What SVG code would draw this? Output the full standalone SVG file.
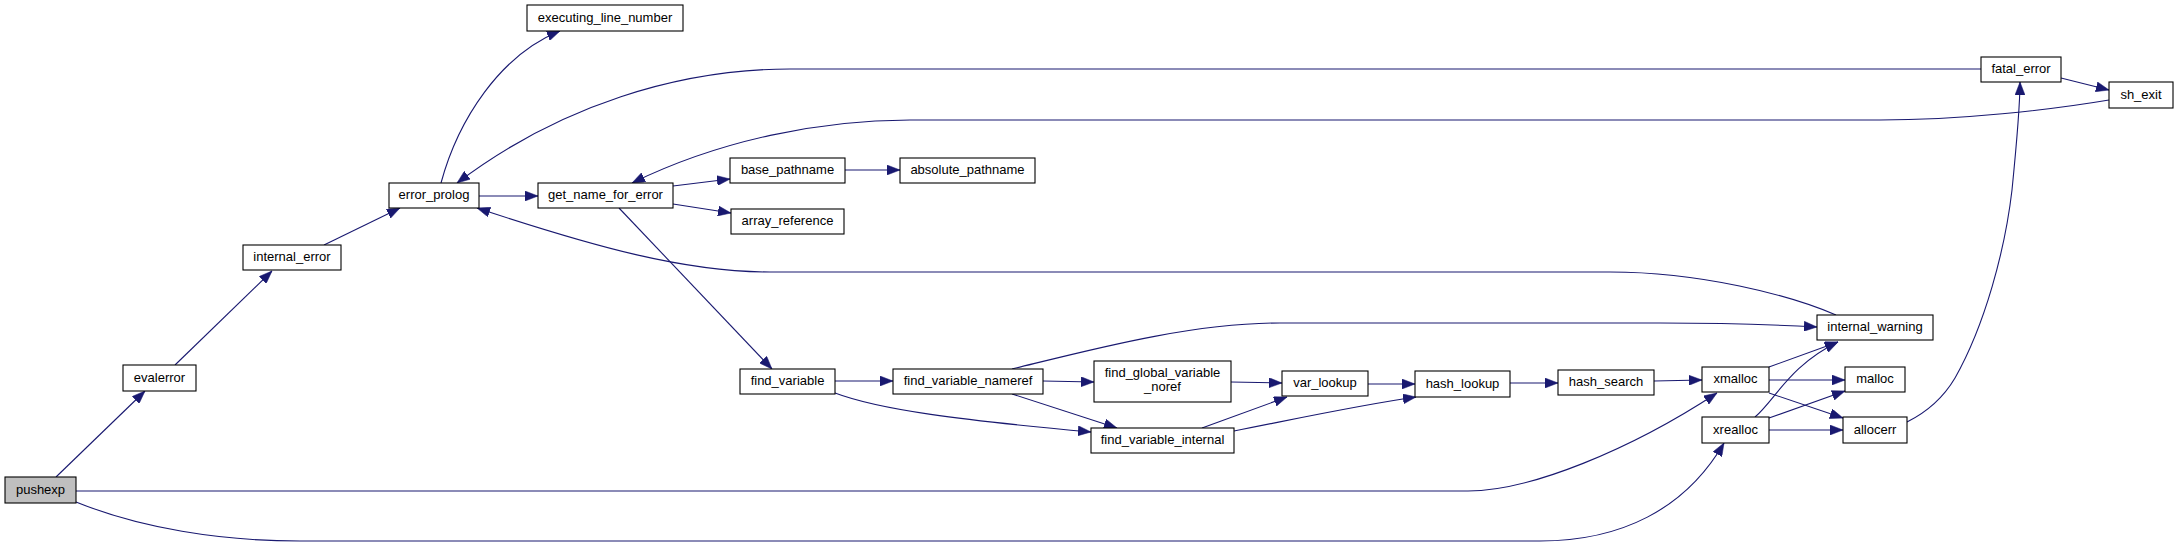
<svg xmlns="http://www.w3.org/2000/svg" width="2179" height="547" viewBox="0 0 2179 547">
<style>
.n rect{fill:#fff;stroke:#000;stroke-width:1.1}
.n text{font-family:"Liberation Sans",Arial,sans-serif;font-size:13px;fill:#000;text-anchor:middle}
#pushexp rect{fill:#bfbfbf}
.e path{fill:none;stroke:#191970;stroke-width:1.1;marker-end:url(#ah)}
</style>
<defs>
<marker id="ah" viewBox="0 0 13 10" refX="13" refY="5" markerWidth="13" markerHeight="10" markerUnits="userSpaceOnUse" orient="auto">
<path d="M0,0 L13,5 L0,10 z" fill="#191970" stroke="#191970" stroke-width="0.5"/>
</marker>
</defs>
<rect width="2179" height="547" fill="#fff"/>
<g id="edges" class="e">
<path d="M56,477 L145,391"/>
<path d="M175,365 L272,271"/>
<path d="M324,245 L400,208"/>
<path d="M441,183 C458,120 500,55 560,31"/>
<path d="M479,196 L538,196"/>
<path d="M673,186 L730,179"/>
<path d="M673,204 L731,213"/>
<path d="M619,208 L772,369"/>
<path d="M845,170 L900,170"/>
<path d="M1981,69 L790,69 C680,69 560,105 457,183"/>
<path d="M2109,100 C2050,110 1960,120 1880,120 L910,120 C820,120 720,140 632,183"/>
<path d="M2061,78 L2109,90"/>
<path d="M1836,315 C1790,295 1700,272 1610,272 L770,272 C685,272 595,247 477,208"/>
<path d="M835,381 L893,381"/>
<path d="M835,393 C880,410 960,420 1091,432"/>
<path d="M1043,381 L1094,382"/>
<path d="M1012,394 L1117,428"/>
<path d="M1012,369 C1090,350 1190,323 1280,323 L1660,323 C1740,323 1780,325 1817,327"/>
<path d="M1231,382 L1282,383"/>
<path d="M1202,428 L1287,397"/>
<path d="M1234,431 C1300,418 1360,405 1416,397"/>
<path d="M1368,384 L1415,384"/>
<path d="M1510,383 L1558,383"/>
<path d="M1654,381 L1702,380"/>
<path d="M1769,367 L1838,342"/>
<path d="M1769,380 L1845,380"/>
<path d="M1769,393 L1843,418"/>
<path d="M1755,417 C1775,400 1790,365 1838,342"/>
<path d="M1769,418 L1845,391"/>
<path d="M1769,430 L1843,430"/>
<path d="M1907,422 C1925,413 1942,400 1955,378 C1985,325 2005,250 2012,190 C2016,150 2020,110 2020,82"/>
<path d="M76,491 L1468,491 C1530,491 1630,450 1717,393"/>
<path d="M76,502 C140,528 220,541 300,541 L1540,541 C1620,541 1685,510 1724,443"/>
</g>
<g id="pushexp" class="n"><rect x="5" y="477" width="71" height="26"/><text x="40.5" y="493.5">pushexp</text></g>
<g id="evalerror" class="n"><rect x="123" y="365" width="73" height="26"/><text x="159.5" y="381.5">evalerror</text></g>
<g id="internal_error" class="n"><rect x="243" y="245" width="98" height="25"/><text x="292" y="261">internal_error</text></g>
<g id="error_prolog" class="n"><rect x="389" y="183" width="90" height="25"/><text x="434" y="199">error_prolog</text></g>
<g id="executing_line_number" class="n"><rect x="527" y="5" width="156" height="26"/><text x="605" y="21.5">executing_line_number</text></g>
<g id="get_name_for_error" class="n"><rect x="538" y="183" width="135" height="25"/><text x="605.5" y="199">get_name_for_error</text></g>
<g id="base_pathname" class="n"><rect x="730" y="158" width="115" height="25"/><text x="787.5" y="174">base_pathname</text></g>
<g id="absolute_pathname" class="n"><rect x="900" y="158" width="135" height="25"/><text x="967.5" y="174">absolute_pathname</text></g>
<g id="array_reference" class="n"><rect x="731" y="209" width="113" height="25"/><text x="787.5" y="225">array_reference</text></g>
<g id="find_variable" class="n"><rect x="740" y="369" width="95" height="25"/><text x="787.5" y="385">find_variable</text></g>
<g id="find_variable_nameref" class="n"><rect x="893" y="369" width="150" height="25"/><text x="968" y="385">find_variable_nameref</text></g>
<g id="find_global_variable_noref" class="n"><rect x="1094" y="361" width="137" height="41"/><text x="1162.5" y="377">find_global_variable</text><text x="1162.5" y="391">_noref</text></g>
<g id="find_variable_internal" class="n"><rect x="1091" y="428" width="143" height="25"/><text x="1162.5" y="444">find_variable_internal</text></g>
<g id="var_lookup" class="n"><rect x="1282" y="371" width="86" height="25"/><text x="1325" y="387">var_lookup</text></g>
<g id="hash_lookup" class="n"><rect x="1415" y="371" width="95" height="26"/><text x="1462.5" y="387.5">hash_lookup</text></g>
<g id="hash_search" class="n"><rect x="1558" y="370" width="96" height="25"/><text x="1606" y="386">hash_search</text></g>
<g id="xmalloc" class="n"><rect x="1702" y="367" width="67" height="25"/><text x="1735.5" y="383">xmalloc</text></g>
<g id="xrealloc" class="n"><rect x="1702" y="417" width="67" height="26"/><text x="1735.5" y="433.5">xrealloc</text></g>
<g id="internal_warning" class="n"><rect x="1817" y="315" width="116" height="25"/><text x="1875" y="331">internal_warning</text></g>
<g id="malloc" class="n"><rect x="1845" y="367" width="60" height="25"/><text x="1875" y="383">malloc</text></g>
<g id="allocerr" class="n"><rect x="1843" y="417" width="64" height="26"/><text x="1875" y="433.5">allocerr</text></g>
<g id="fatal_error" class="n"><rect x="1981" y="57" width="80" height="25"/><text x="2021" y="73">fatal_error</text></g>
<g id="sh_exit" class="n"><rect x="2109" y="82" width="64" height="26"/><text x="2141" y="98.5">sh_exit</text></g>
</svg>
